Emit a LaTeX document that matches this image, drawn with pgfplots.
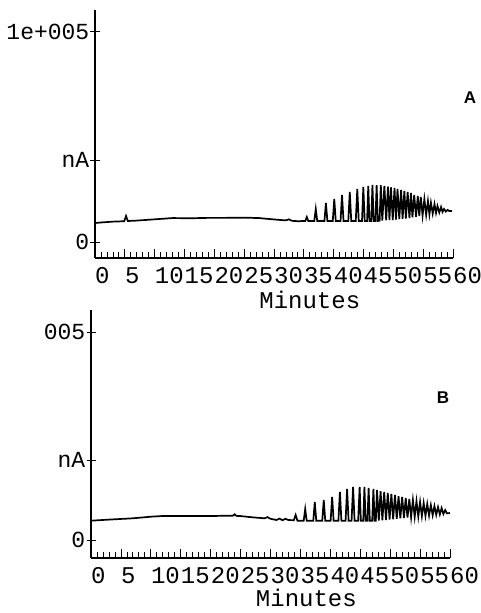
\documentclass[border=0pt]{standalone}
\usepackage{fontspec}
\setmainfont{Liberation Mono}
\newfontfamily\labsans{Liberation Sans}
\usepackage{pgfplots}
\pgfplotsset{compat=1.18}

\newcommand{\chfont}{\fontsize{24}{28}\selectfont}
\newcommand{\ytfont}{\fontsize{23}{27}\selectfont}

\pgfplotsset{
  chrom/.style={
    scale only axis,
    xmin=0, xmax=60,
    axis x line*=bottom, axis y line*=left,
    scaled y ticks=false,
    xtick={0,5,...,60},
    xticklabels={0,5,10,15,20,25,30,35,40,45,50,55,60},
    minor x tick num=4,
    xtick align=inside,
    major x tick style={line width=0.8pt},
    minor x tick style={line width=0.8pt},
    major tick length=9pt, minor tick length=6pt,
    ytick align=center,
    every y tick/.style={black, line width=0.8pt},
    axis line style={line width=1.2pt},
    xticklabel style={font=\chfont, anchor=north west, inner sep=0pt, yshift=-9pt},
    yticklabel style={font=\ytfont, anchor=east, inner sep=0pt, xshift=-1pt},
    xlabel={Minutes},
    xlabel style={font=\chfont, inner sep=0pt, at={(axis description cs:0.6,0)}, anchor=center},
    tick style={black},
  },
}

\begin{document}
\begin{tikzpicture}
\useasboundingbox (0,0) rectangle (481pt,613pt);

% ---- panel A ----
\begin{axis}[chrom,
  at={(95pt,355pt)}, anchor=south west,
  width=358pt, height=248pt,
  ymin=-7600, ymax=110400,
  ytick={0,39000,100000},
  yticklabels={0,nA,1e+005},
  xlabel style={yshift=-42pt},
]
\addplot[black, line width=1.7pt] coordinates {
  (0,9040) (1,9300) (2,9500) (3,9700) (4,9800) (4.9,9900) (5.2,12400) (5.5,10000)
  (7,10200) (9,10600) (11,11000) (13,11400) (16,11300) (19,11500) (22,11500)
  (25,11600) (27.5,11400) (29,11000) (31,10500) (32,10300) (32.5,10800) (33,10100)
  (34,9900) (34.9,10000)
  (35.25,10000) (35.5,11900) (35.75,10000)
  (36.75,10000) (37.0,15710) (37.25,10000)
  (38.45,10000) (38.7,18560) (38.95,10000)
  (39.85,10000) (40.1,20470) (40.35,10000)
  (41.15,10000) (41.4,22370) (41.65,10000)
  (42.45,10000) (42.7,23800) (42.95,10000)
  (43.7,10000) (43.96,25230) (44.2,10000)
  (44.75,10000) (44.97,26180) (45.2,10000)
  (45.6,10000) (45.8,26660) (46.0,10000)
  (46.3,10000) (46.5,27130) (46.7,10000)
  (47.0,10000) (47.2,27000) (47.4,10050)
  (47.7,10100) (47.9,27000) (48.15,10200)
  (48.5,26660) (48.8,10300) (49.1,26320) (49.35,10400) (49.6,26040) (49.9,10500)
  (50.2,25700) (50.45,10700) (50.7,25230) (51.0,10900) (51.3,24750) (51.55,11000)
  (51.85,24280) (52.1,11200) (52.4,23800) (52.7,11400) (52.96,23320) (53.2,11700)
  (53.5,22370) (53.8,12000) (54.1,21900) (54.35,12300) (54.6,21420) (54.9,12600)
  (55.2,20470) (55.5,12900) (55.8,19520) (56.05,13200) (56.3,18700) (56.6,13500)
  (56.9,18090) (57.15,13800) (57.4,17140) (57.7,14000) (58.0,16660) (58.25,14300)
  (58.5,15710) (58.8,14500) (59.1,15300) (59.4,14700) (59.8,14760)
};
\end{axis}

% ---- panel B ----
\begin{axis}[chrom,
  at={(91pt,55pt)}, anchor=south west,
  width=359pt, height=248pt,
  ymin=-8660, ymax=110600,
  ytick={0,38500,100000},
  yticklabels={0,nA,005},
  xlabel style={yshift=-40pt},
]
\addplot[black, line width=1.7pt] coordinates {
  (0,9280) (3,9800) (7,10430) (10,11200) (12,11540) (16,11500) (20.4,11540)
  (23,11700) (23.7,11700) (24,12360) (24.3,11600) (25,11500) (27,10900) (29,10430)
  (29.5,11000) (30,10200) (31,9620) (31.5,10300) (32,9500) (32.5,10200) (33,9600)
  (33.9,9500) (34.2,12030) (34.5,9300) (35.55,9280)
  (35.8,14900) (36.05,9280) (37.15,9280) (37.4,18280) (37.65,9280)
  (38.65,9280) (38.9,19240) (39.15,9280)
  (40.05,9280) (40.3,20680) (40.55,9280)
  (41.35,9280) (41.6,23090) (41.85,9280)
  (42.55,9280) (42.8,24530) (43.05,9280)
  (43.55,9280) (43.8,25490) (44.05,9280)
  (44.65,9280) (44.9,25490) (45.1,9280)
  (45.5,9280) (45.7,25490) (45.9,9280)
  (46.2,9280) (46.4,25010) (46.6,9280)
  (47.0,9280) (47.2,24530) (47.4,9280)
  (47.6,9280) (47.8,24050) (48.1,9300)
  (48.4,23500) (48.7,9450) (49.0,23090) (49.3,9600) (49.6,22610) (49.9,9800)
  (50.2,22100) (50.5,10000) (50.8,21650) (51.1,10200) (51.4,21100) (51.7,10400)
  (52.0,20680) (52.3,10580) (52.6,20200) (52.9,10750) (53.2,19700) (53.5,10900)
  (53.8,19240) (54.1,11100) (54.4,18760) (54.7,11250) (55.0,18280) (55.3,11400)
  (55.6,17800) (55.9,11550) (56.2,17300) (56.5,11700) (56.8,16800) (57.1,11900)
  (57.4,16350) (57.7,12100) (58.0,15870) (58.3,12300) (58.6,15390) (58.9,12500)
  (59.2,14400) (59.5,12800) (60.0,12990)
};
\end{axis}

\node[font=\labsans\bfseries\fontsize{17}{20}\selectfont] at (470pt,515pt) {A};
\node[font=\labsans\bfseries\fontsize{17}{20}\selectfont] at (443pt,215pt) {B};
\end{tikzpicture}
\end{document}
